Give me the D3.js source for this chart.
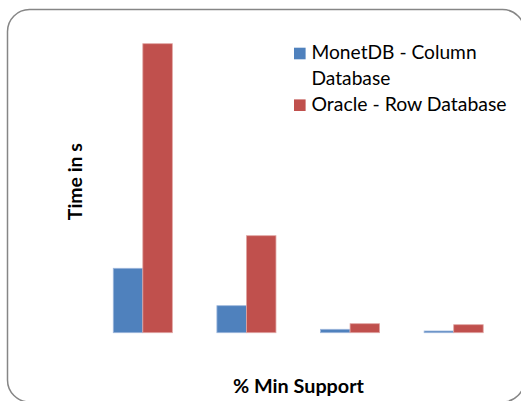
<!DOCTYPE html>
<html><head><meta charset="utf-8">
<script src="https://cdn.jsdelivr.net/npm/d3@7"></script>
<style>body{margin:0;background:#fff}svg{display:block}text{font-family:Lato,"Open Sans",sans-serif;fill:#000}</style>
</head><body>
<script>
const categories = ["c1", "c2", "c3", "c4"];
const seriesNames = ["MonetDB - Column Database", "Oracle - Row Database"];
const monetdb = [64.4, 27, 3.4, 1.7];
const oracle = [289, 97, 9, 8];
const colors = ["#4F81BD", "#C0504D"];

const W = 521, H = 401;
const svg = d3.select("body").append("svg").attr("width", W).attr("height", H);
svg.append("rect").attr("x", 7.5).attr("y", 9.5).attr("width", 517).attr("height", 392.5)
  .attr("rx", 22).attr("fill", "#fff").attr("stroke", "#868686").attr("stroke-width", 1.5);

const plot = {left: 91, right: 505.5, top: 32.7, bottom: 332.7};
const x = d3.scaleBand().domain(categories).range([plot.left, plot.right]).paddingInner(0.43).paddingOuter(0.215);
const x1 = d3.scaleBand().domain([0, 1]).range([0, x.bandwidth()]);
const y = d3.scaleLinear().domain([0, 300]).range([plot.bottom, plot.top]);

const data = [monetdb, oracle];
data.forEach((vals, s) => {
  svg.append("g").selectAll("rect").data(vals).join("rect")
    .attr("x", (d, i) => x(categories[i]) + x1(s))
    .attr("y", d => y(d))
    .attr("width", x1.bandwidth())
    .attr("height", d => y(0) - y(d))
    .attr("fill", colors[s])
    .attr("stroke", s === 0 ? "#9db7dc" : "#e0a6a4").attr("stroke-width", 0.8);
});

function fit(sel, target) {
  const w = sel.node().getComputedTextLength();
  const fs = parseFloat(sel.attr("font-size"));
  sel.attr("font-size", fs * target / w);
}

// y label
const yl = svg.append("text").attr("transform", "translate(81.5,181.7) rotate(-90)")
  .attr("text-anchor", "middle").attr("font-weight", "bold").attr("font-size", 20)
  .text("Time in s");
fit(yl, 77);
// x label
const xl = svg.append("text").attr("x", 298.5).attr("y", 393).attr("text-anchor", "middle")
  .attr("font-weight", "bold").attr("font-size", 20).text("% Min Support");
fit(xl, 131);

// legend
const lg = svg.append("g");
const legendLines = [["MonetDB - Column", "Database"], ["Oracle - Row Database"]];
const rowY = [59.3, 111];
legendLines.forEach((lines, i) => {
  lg.append("rect").attr("x", 294).attr("y", rowY[i] - 11.6).attr("width", 11.6).attr("height", 11.6).attr("fill", colors[i]);
  lines.forEach((t, j) => {
    const tx = lg.append("text").attr("x", 311.5).attr("y", rowY[i] + j * 26).attr("font-size", 19.3).text(t);
    if (t === "Oracle - Row Database") fit(tx, 195);
    if (t === "MonetDB - Column") fit(tx, 165);
    if (t === "Database") tx.attr("font-size", lg.select("text").attr("font-size"));
  });
});
</script>
</body></html>
